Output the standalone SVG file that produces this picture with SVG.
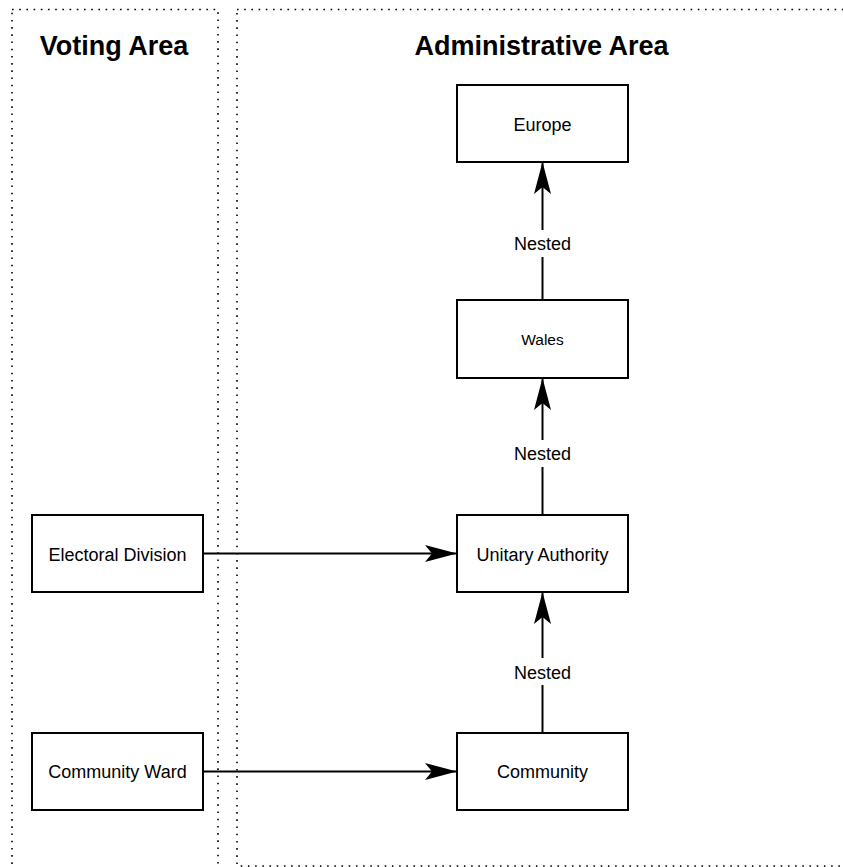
<svg xmlns="http://www.w3.org/2000/svg" width="843" height="867" viewBox="0 0 843 867">
<style>
.zone{fill:none;stroke:#000;stroke-width:1.6;stroke-dasharray:1.6 5.6;}
.title{font-family:"Liberation Sans",Arial,sans-serif;font-weight:bold;font-size:27px;text-anchor:middle;fill:#000;}
.box{fill:#fff;stroke:#000;stroke-width:2;}
.lbl{font-family:"Liberation Sans",Arial,sans-serif;font-size:18px;text-anchor:middle;fill:#000;}
.edge{fill:none;stroke:#000;stroke-width:2;}
.elbl{font-family:"Liberation Sans",Arial,sans-serif;font-size:18px;text-anchor:middle;fill:#000;}
</style>
<defs>
<marker id="arr" viewBox="-34 -10 35 20" refX="0" refY="0" markerWidth="35" markerHeight="20" markerUnits="userSpaceOnUse" orient="auto">
<path d="M0,0 L-32,-8.5 L-25,0 L-32,8.5 Z" fill="#000"/>
</marker>
</defs>
<rect width="843" height="867" fill="#fff"/>
<g id="voting-area">
<rect class="zone" x="12" y="9.5" width="206" height="880"/>
<text class="title" x="114" y="55">Voting Area</text>
</g>
<g id="administrative-area">
<rect class="zone" x="237" y="9.5" width="640" height="856.5"/>
<text class="title" x="541.5" y="55">Administrative Area</text>
</g>
<g id="connectors">
<line class="edge" x1="542.5" y1="300" x2="542.5" y2="162" marker-end="url(#arr)"/>
<rect x="512" y="230" width="61" height="27" fill="#fff"/>
<text class="elbl" x="542.5" y="250">Nested</text>
<line class="edge" x1="542.5" y1="515" x2="542.5" y2="378" marker-end="url(#arr)"/>
<rect x="512" y="440" width="61" height="27" fill="#fff"/>
<text class="elbl" x="542.5" y="460">Nested</text>
<line class="edge" x1="542.5" y1="733" x2="542.5" y2="592" marker-end="url(#arr)"/>
<rect x="512" y="658" width="61" height="27" fill="#fff"/>
<text class="elbl" x="542.5" y="679">Nested</text>
<line class="edge" x1="203" y1="553.5" x2="457" y2="553.5" marker-end="url(#arr)"/>
<line class="edge" x1="203" y1="771.5" x2="457" y2="771.5" marker-end="url(#arr)"/>
</g>
<g id="europe">
<rect class="box" x="457" y="85" width="171" height="77"/>
<text class="lbl" x="542.5" y="131">Europe</text>
</g>
<g id="wales">
<rect class="box" x="457" y="300" width="171" height="78"/>
<text class="lbl" x="542.5" y="345" style="font-size:15.5px">Wales</text>
</g>
<g id="unitary-authority">
<rect class="box" x="457" y="515" width="171" height="77"/>
<text class="lbl" x="542.5" y="560.5">Unitary Authority</text>
</g>
<g id="community">
<rect class="box" x="457" y="733" width="171" height="77"/>
<text class="lbl" x="542.5" y="778">Community</text>
</g>
<g id="electoral-division">
<rect class="box" x="32" y="515" width="171" height="77"/>
<text class="lbl" x="117.5" y="561">Electoral Division</text>
</g>
<g id="community-ward">
<rect class="box" x="32" y="733" width="171" height="77"/>
<text class="lbl" x="117.5" y="777.5">Community Ward</text>
</g>
</svg>
